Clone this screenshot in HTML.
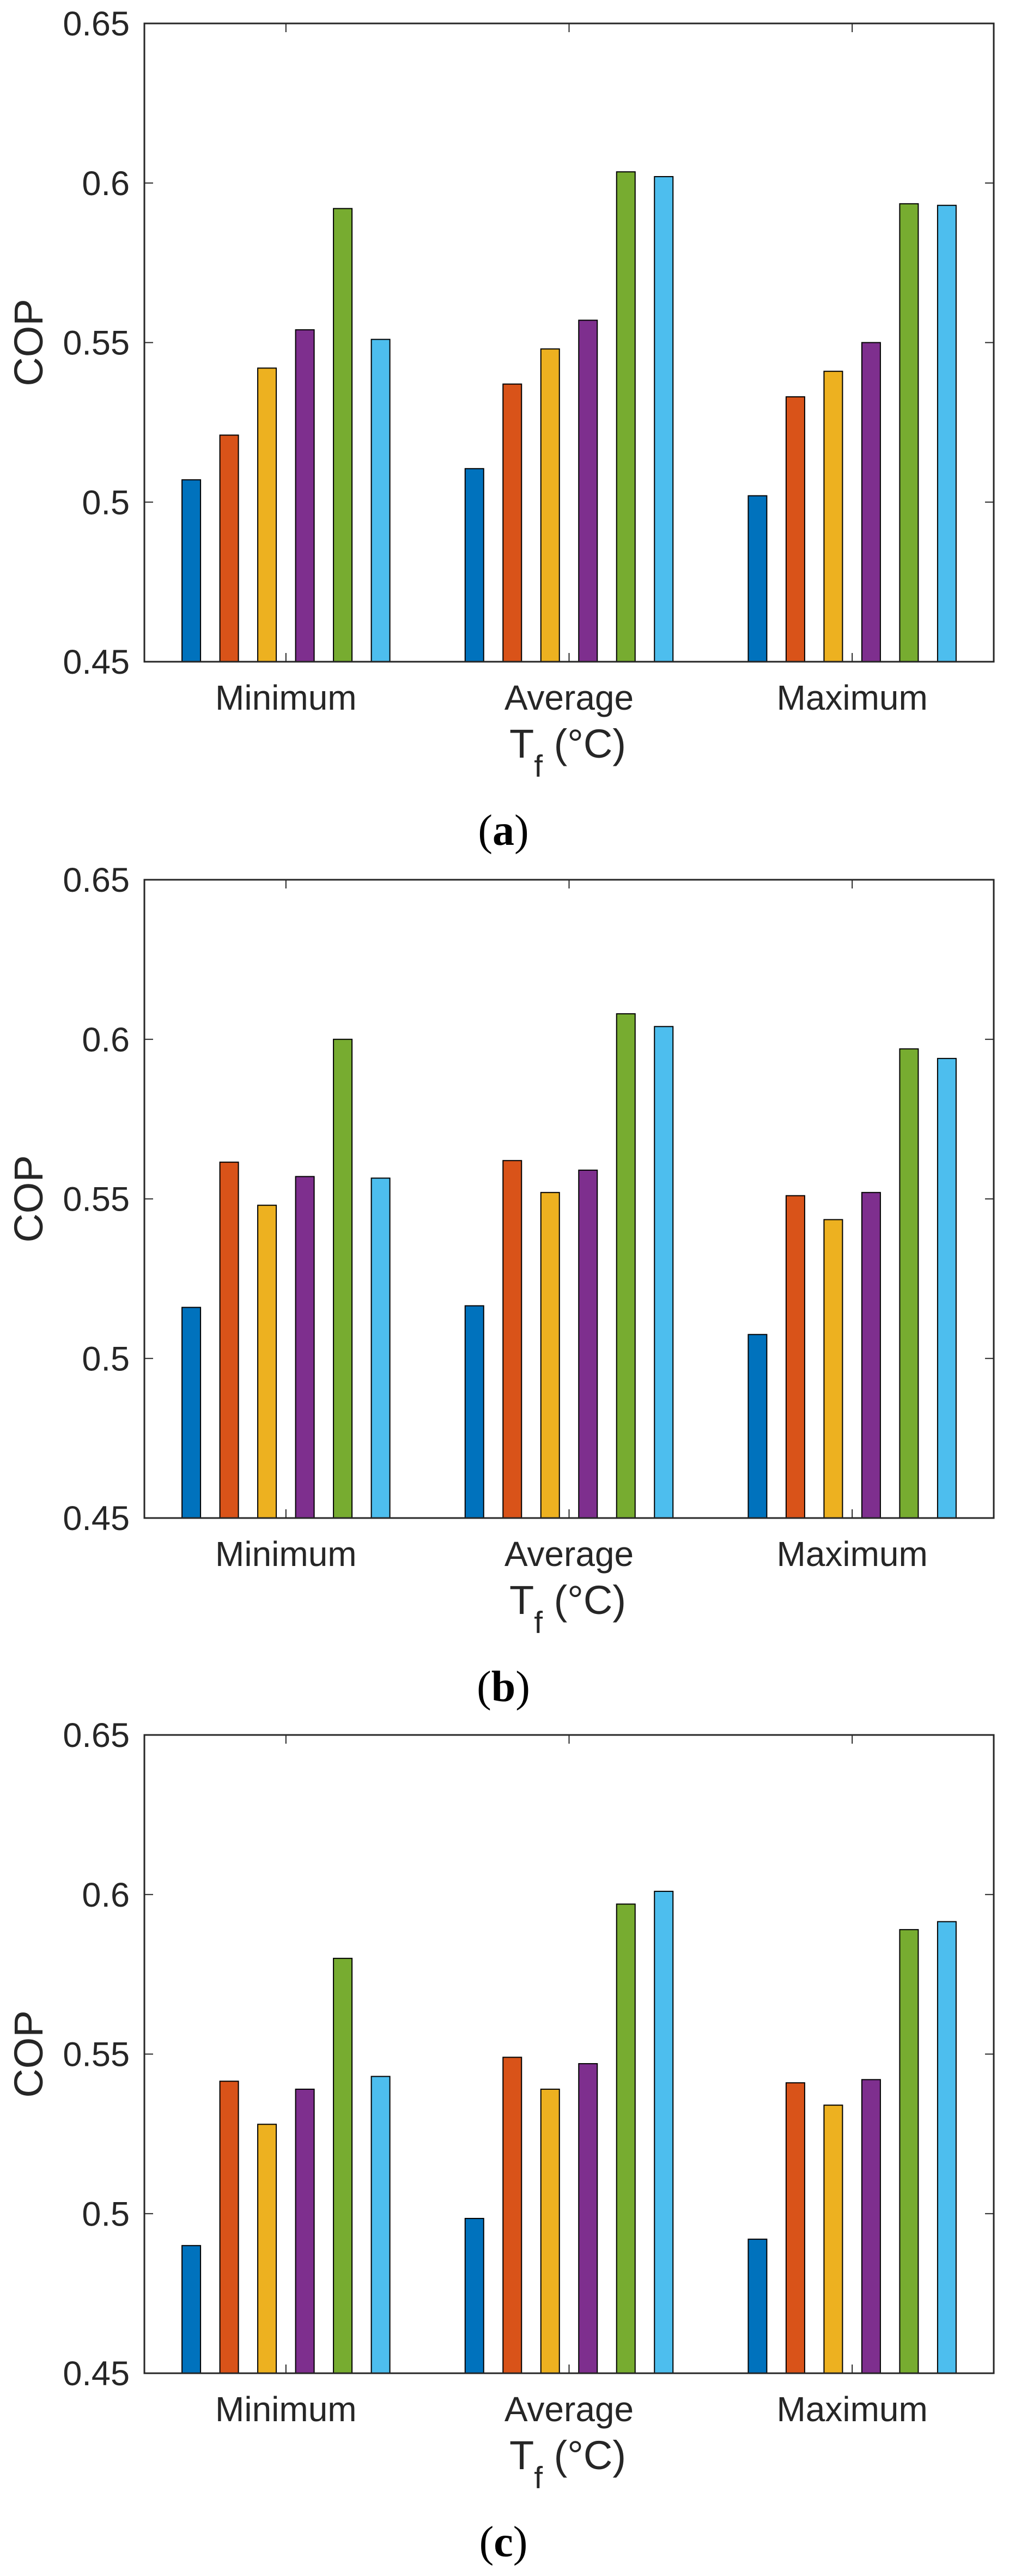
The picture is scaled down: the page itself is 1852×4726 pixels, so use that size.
<!DOCTYPE html>
<html><head><meta charset="utf-8"><style>
html,body{margin:0;padding:0;background:#fff;}
svg{display:block;}
</style></head><body>
<svg id="fig" width="1852" height="4726" viewBox="0 0 1852 4726" xmlns="http://www.w3.org/2000/svg"></svg>
<script>
const categories = ["Minimum", "Average", "Maximum"];
const yTicks = [0.45, 0.5, 0.55, 0.6, 0.65];
const yTickLabels = ["0.45", "0.5", "0.55", "0.6", "0.65"];
const captions = ["a", "b", "c"];
const seriesColors = ["#0072BD", "#D95319", "#EDB120", "#7E2F8E", "#77AC30", "#4DBEEE"];
// values per panel: [category][series]
const panelA = [
  [0.507, 0.521, 0.542, 0.554, 0.592, 0.551],
  [0.5105, 0.537, 0.548, 0.557, 0.6035, 0.602],
  [0.502, 0.533, 0.541, 0.550, 0.5935, 0.593]
];
const panelB = [
  [0.516, 0.5615, 0.548, 0.557, 0.600, 0.5565],
  [0.5165, 0.562, 0.552, 0.559, 0.608, 0.604],
  [0.5075, 0.551, 0.5435, 0.552, 0.597, 0.594]
];
const panelC = [
  [0.490, 0.5415, 0.528, 0.539, 0.580, 0.543],
  [0.4985, 0.549, 0.539, 0.547, 0.597, 0.601],
  [0.492, 0.541, 0.534, 0.542, 0.589, 0.5915]
];
const panels = [panelA, panelB, panelC];
const panelTops = [43, 1614, 3183];

const NS = "http://www.w3.org/2000/svg";
const svg = document.getElementById("fig");
function mk(tag, attrs, parent) {
  const e = document.createElementNS(NS, tag);
  for (const k in attrs) e.setAttribute(k, attrs[k]);
  (parent || svg).appendChild(e);
  return e;
}
const L = 265, R = 1824, H = 1171;
const yMin = 0.45, yMax = 0.65;
const ink = "#262626";
const sans = "'Liberation Sans', Arial, sans-serif";

panels.forEach((data, p) => {
  const T = panelTops[p], B = T + H;
  const g = mk("g", {});
  
  
  const yS = v => B - (v - yMin) / (yMax - yMin) * H;
  const xCat = i => L + (i + 0.5) * (R - L) / categories.length;
  const barW = 34, step = 69.5;
  data.forEach((vals, ci) => {
    vals.forEach((v, si) => {
      const cx = xCat(ci) + (si - 2.5) * step;
      const y = yS(v);
      const r = mk("rect", {x: cx - barW / 2, y: y, width: barW, height: B - y,
        fill: seriesColors[si], stroke: "#000", "stroke-width": 2}, g);
      
      
    });
  });
  const box = mk("rect", {x: L, y: T, width: R - L, height: H, fill: "none", stroke: ink, "stroke-width": 3}, g);
  
  
  yTicks.forEach((t, i) => {
    const y = yS(t);
    mk("line", {x1: L, x2: L + 16, y1: y, y2: y, stroke: ink, "stroke-width": 2}, g);
    mk("line", {x1: R, x2: R - 16, y1: y, y2: y, stroke: ink, "stroke-width": 2}, g);
    const tx = mk("text", {x: 238, y: y + 22, "text-anchor": "end", "font-family": sans, "font-size": 63, fill: ink}, g);
    tx.textContent = yTickLabels[i];
    
    
  });
  categories.forEach((c, i) => {
    const x = xCat(i);
    mk("line", {x1: x, x2: x, y1: B, y2: B - 16, stroke: ink, "stroke-width": 2}, g);
    mk("line", {x1: x, x2: x, y1: T, y2: T + 16, stroke: ink, "stroke-width": 2}, g);
    const tx = mk("text", {x: x, y: B + 88, "text-anchor": "middle", "font-family": sans, "font-size": 64, fill: ink}, g);
    tx.textContent = c;
    
    
  });
  const yl = mk("text", {transform: "translate(78," + (T + H / 2) + ") rotate(-90)", "text-anchor": "middle", "font-family": sans, "font-size": 74, fill: ink}, g);
  yl.textContent = "COP";
  
  
  const xl = mk("text", {x: 1042, y: B + 176, "text-anchor": "middle", "font-family": sans, "font-size": 74, fill: ink}, g);
  
  
  const t1 = mk("tspan", {}, xl); t1.textContent = "T";
  const t2 = mk("tspan", {dy: 35, "font-size": 57}, xl); t2.textContent = "f";
  const t3 = mk("tspan", {dy: -35}, xl); t3.textContent = " (\u00B0C)";
  const cap = mk("text", {x: 924, y: B + 336, "text-anchor": "middle", "font-family": "'Liberation Serif', 'Times New Roman', serif", "font-size": 80, fill: "#000"}, g);
  
  
  const c1 = mk("tspan", {}, cap); c1.textContent = "(";
  const c2 = mk("tspan", {"font-weight": "bold"}, cap); c2.textContent = captions[p];
  const c3 = mk("tspan", {}, cap); c3.textContent = ")";
});
</script>
</body></html>
